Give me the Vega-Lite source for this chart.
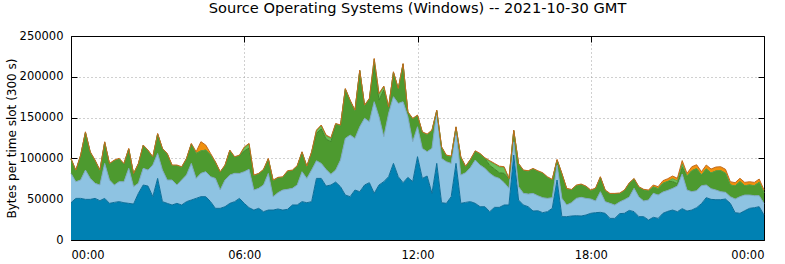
{
  "$schema": "https://vega.github.io/schema/vega-lite/v6.json",
  "width": 693,
  "height": 204,
  "autosize": {"type": "none"},
  "padding": {"left": 71, "top": 36, "right": 21, "bottom": 24},
  "background": "white",
  "title": {"text": "Source Operating Systems (Windows) -- 2021-10-30 GMT", "font": "DejaVu Sans", "fontSize": 14.6, "fontWeight": "normal", "color": "black", "anchor": "middle", "frame": "group", "baseline": "alphabetic", "offset": 2},
  "config": {
    "view": {"stroke": null},
    "axis": {"labelFont": "DejaVu Sans", "labelFontSize": 11.5, "labelColor": "black", "titleFont": "DejaVu Sans", "titleFontSize": 12, "titleFontWeight": "normal", "titleColor": "black", "domainColor": "black", "tickColor": "black", "domainWidth": 1, "tickWidth": 1}
  },
  "data": {"values": [
    {"m":0,"s5":45700,"s4":35900,"s3":17600,"s2":0,"s1":800},
    {"m":10,"s5":51000,"s4":20400,"s3":13500,"s2":0,"s1":800},
    {"m":20,"s5":51000,"s4":22500,"s3":29800,"s2":0,"s1":800},
    {"m":30,"s5":49800,"s4":35900,"s3":46100,"s2":0,"s1":800},
    {"m":40,"s5":49800,"s4":25700,"s3":31800,"s2":0,"s1":800},
    {"m":50,"s5":51000,"s4":18400,"s3":27800,"s2":0,"s1":800},
    {"m":60,"s5":48200,"s4":19200,"s3":17600,"s2":0,"s1":800},
    {"m":70,"s5":51000,"s4":42900,"s3":25700,"s2":0,"s1":800},
    {"m":80,"s5":44900,"s4":28600,"s3":19600,"s2":0,"s1":800},
    {"m":90,"s5":46100,"s4":21200,"s3":29800,"s2":0,"s1":800},
    {"m":100,"s5":47000,"s4":24500,"s3":27800,"s2":0,"s1":800},
    {"m":110,"s5":45700,"s4":25700,"s3":21600,"s2":0,"s1":800},
    {"m":120,"s5":44900,"s4":42900,"s3":23700,"s2":0,"s1":800},
    {"m":130,"s5":44100,"s4":21200,"s3":15500,"s2":0,"s1":800},
    {"m":140,"s5":57200,"s4":12200,"s3":23700,"s2":0,"s1":800},
    {"m":150,"s5":67400,"s4":20400,"s3":27800,"s2":0,"s1":800},
    {"m":160,"s5":66100,"s4":19600,"s3":23700,"s2":0,"s1":800},
    {"m":170,"s5":53100,"s4":38800,"s3":9400,"s2":0,"s1":800},
    {"m":180,"s5":75500,"s4":30600,"s3":23700,"s2":0,"s1":800},
    {"m":190,"s5":47000,"s4":38800,"s3":25700,"s2":0,"s1":800},
    {"m":200,"s5":44900,"s4":28600,"s3":31800,"s2":0,"s1":800},
    {"m":210,"s5":42900,"s4":30600,"s3":17600,"s2":0,"s1":800},
    {"m":220,"s5":44900,"s4":22500,"s3":23700,"s2":0,"s1":800},
    {"m":230,"s5":42900,"s4":30600,"s3":15500,"s2":0,"s1":800},
    {"m":240,"s5":47000,"s4":32700,"s3":19600,"s2":0,"s1":800},
    {"m":250,"s5":49000,"s4":44900,"s3":23700,"s2":0,"s1":800},
    {"m":260,"s5":51000,"s4":24500,"s3":30600,"s2":0,"s1":2000},
    {"m":270,"s5":53100,"s4":28600,"s3":27400,"s2":0,"s1":11400},
    {"m":280,"s5":53100,"s4":30600,"s3":26500,"s2":0,"s1":6100},
    {"m":290,"s5":47000,"s4":30600,"s3":26500,"s2":0,"s1":2000},
    {"m":300,"s5":38800,"s4":36700,"s3":19600,"s2":0,"s1":800},
    {"m":310,"s5":38800,"s4":22500,"s3":21600,"s2":0,"s1":800},
    {"m":320,"s5":40800,"s4":32700,"s3":17600,"s2":0,"s1":800},
    {"m":330,"s5":44900,"s4":34700,"s3":29800,"s2":0,"s1":800},
    {"m":340,"s5":47000,"s4":34700,"s3":19600,"s2":0,"s1":800},
    {"m":350,"s5":51000,"s4":30600,"s3":21600,"s2":0,"s1":800},
    {"m":360,"s5":44900,"s4":38800,"s3":25300,"s2":4100,"s1":800},
    {"m":370,"s5":39600,"s4":47000,"s3":26100,"s2":4900,"s1":800},
    {"m":380,"s5":36700,"s4":24500,"s3":17600,"s2":0,"s1":800},
    {"m":390,"s5":38800,"s4":24500,"s3":17600,"s2":0,"s1":800},
    {"m":400,"s5":34700,"s4":32700,"s3":18400,"s2":0,"s1":800},
    {"m":410,"s5":36700,"s4":44900,"s3":17600,"s2":0,"s1":800},
    {"m":420,"s5":36700,"s4":16300,"s3":19600,"s2":0,"s1":800},
    {"m":430,"s5":38000,"s4":20000,"s3":18000,"s2":0,"s1":800},
    {"m":440,"s5":36700,"s4":24500,"s3":15500,"s2":0,"s1":800},
    {"m":450,"s5":37600,"s4":24500,"s3":22000,"s2":0,"s1":800},
    {"m":460,"s5":42900,"s4":20400,"s3":21600,"s2":0,"s1":800},
    {"m":470,"s5":42900,"s4":24500,"s3":22900,"s2":0,"s1":800},
    {"m":480,"s5":47000,"s4":36700,"s3":23700,"s2":0,"s1":800},
    {"m":490,"s5":45700,"s4":29800,"s3":14300,"s2":0,"s1":800},
    {"m":500,"s5":47000,"s4":38800,"s3":21600,"s2":0,"s1":800},
    {"m":510,"s5":75500,"s4":21600,"s3":33500,"s2":3300,"s1":800},
    {"m":520,"s5":75500,"s4":18400,"s3":42100,"s2":4100,"s1":800},
    {"m":530,"s5":66100,"s4":20400,"s3":37200,"s2":4100,"s1":800},
    {"m":540,"s5":67400,"s4":13100,"s3":40000,"s2":4100,"s1":800},
    {"m":550,"s5":71000,"s4":14700,"s3":56300,"s2":0,"s1":800},
    {"m":560,"s5":65300,"s4":32700,"s3":42100,"s2":0,"s1":800},
    {"m":570,"s5":55100,"s4":69400,"s3":60400,"s2":0,"s1":800},
    {"m":580,"s5":53100,"s4":75500,"s3":42100,"s2":0,"s1":800},
    {"m":590,"s5":61200,"s4":63300,"s3":33900,"s2":0,"s1":800},
    {"m":600,"s5":59200,"s4":79600,"s3":68600,"s2":0,"s1":800},
    {"m":610,"s5":67400,"s4":81700,"s3":15500,"s2":0,"s1":800},
    {"m":620,"s5":70200,"s4":74700,"s3":27800,"s2":0,"s1":800},
    {"m":630,"s5":57200,"s4":112300,"s3":46100,"s2":6100,"s1":800},
    {"m":640,"s5":67400,"s4":83700,"s3":20400,"s2":7300,"s1":800},
    {"m":650,"s5":71500,"s4":55100,"s3":57200,"s2":4100,"s1":800},
    {"m":660,"s5":77600,"s4":77600,"s3":7300,"s2":0,"s1":800},
    {"m":670,"s5":93900,"s4":81700,"s3":29800,"s2":0,"s1":800},
    {"m":680,"s5":77600,"s4":89800,"s3":17600,"s2":0,"s1":800},
    {"m":690,"s5":70200,"s4":99200,"s3":46100,"s2":0,"s1":800},
    {"m":700,"s5":76800,"s4":74300,"s3":5300,"s2":0,"s1":800},
    {"m":710,"s5":71500,"s4":49000,"s3":27800,"s2":0,"s1":800},
    {"m":720,"s5":102100,"s4":36700,"s3":13500,"s2":0,"s1":800},
    {"m":730,"s5":75500,"s4":36700,"s3":19600,"s2":0,"s1":800},
    {"m":740,"s5":78400,"s4":29800,"s3":20800,"s2":0,"s1":800},
    {"m":750,"s5":57200,"s4":55100,"s3":21600,"s2":0,"s1":800},
    {"m":760,"s5":93900,"s4":63300,"s3":1200,"s2":0,"s1":800},
    {"m":770,"s5":45700,"s4":54300,"s3":13500,"s2":0,"s1":800},
    {"m":780,"s5":44900,"s4":51000,"s3":7300,"s2":0,"s1":800},
    {"m":790,"s5":53100,"s4":40800,"s3":8200,"s2":0,"s1":800},
    {"m":800,"s5":93900,"s4":40800,"s3":3300,"s2":0,"s1":800},
    {"m":810,"s5":44900,"s4":34700,"s3":21600,"s2":0,"s1":800},
    {"m":820,"s5":46100,"s4":36300,"s3":7300,"s2":0,"s1":800},
    {"m":830,"s5":47000,"s4":41700,"s3":9400,"s2":0,"s1":800},
    {"m":840,"s5":44900,"s4":53100,"s3":10600,"s2":0,"s1":800},
    {"m":850,"s5":40800,"s4":51000,"s3":13500,"s2":0,"s1":800},
    {"m":860,"s5":40800,"s4":47000,"s3":12200,"s2":0,"s1":800},
    {"m":870,"s5":34700,"s4":47000,"s3":9800,"s2":4900,"s1":800},
    {"m":880,"s5":40000,"s4":37600,"s3":9400,"s2":6100,"s1":800},
    {"m":890,"s5":40000,"s4":35500,"s3":6900,"s2":7300,"s1":800},
    {"m":900,"s5":42900,"s4":27400,"s3":11400,"s2":7300,"s1":800},
    {"m":910,"s5":42900,"s4":20400,"s3":11400,"s2":0,"s1":800},
    {"m":920,"s5":104100,"s4":16300,"s3":13500,"s2":0,"s1":800},
    {"m":930,"s5":49000,"s4":16300,"s3":27800,"s2":0,"s1":800},
    {"m":940,"s5":42900,"s4":14300,"s3":27800,"s2":0,"s1":800},
    {"m":950,"s5":40800,"s4":15500,"s3":27800,"s2":0,"s1":800},
    {"m":960,"s5":35500,"s4":21600,"s3":29800,"s2":0,"s1":800},
    {"m":970,"s5":35900,"s4":18400,"s3":29800,"s2":0,"s1":800},
    {"m":980,"s5":33500,"s4":18400,"s3":29800,"s2":0,"s1":800},
    {"m":990,"s5":34700,"s4":16300,"s3":25700,"s2":0,"s1":800},
    {"m":1000,"s5":38800,"s4":13100,"s3":21600,"s2":0,"s1":800},
    {"m":1010,"s5":73500,"s4":18400,"s3":6100,"s2":0,"s1":800},
    {"m":1020,"s5":28600,"s4":22500,"s3":29800,"s2":0,"s1":800},
    {"m":1030,"s5":28600,"s4":14300,"s3":19600,"s2":0,"s1":800},
    {"m":1040,"s5":29400,"s4":16300,"s3":15500,"s2":0,"s1":800},
    {"m":1050,"s5":29800,"s4":21200,"s3":15500,"s2":0,"s1":800},
    {"m":1060,"s5":29400,"s4":22900,"s3":15500,"s2":0,"s1":800},
    {"m":1070,"s5":30600,"s4":20400,"s3":14300,"s2":0,"s1":800},
    {"m":1080,"s5":32700,"s4":17600,"s3":10200,"s2":0,"s1":800},
    {"m":1090,"s5":33500,"s4":14300,"s3":15100,"s2":0,"s1":800},
    {"m":1100,"s5":33900,"s4":25300,"s3":17600,"s2":0,"s1":800},
    {"m":1110,"s5":32700,"s4":14300,"s3":13500,"s2":0,"s1":800},
    {"m":1120,"s5":26500,"s4":18400,"s3":11400,"s2":0,"s1":800},
    {"m":1130,"s5":26500,"s4":16300,"s3":13500,"s2":0,"s1":800},
    {"m":1140,"s5":32300,"s4":14300,"s3":10200,"s2":0,"s1":800},
    {"m":1150,"s5":32700,"s4":16700,"s3":11000,"s2":0,"s1":800},
    {"m":1160,"s5":36300,"s4":16300,"s3":16700,"s2":0,"s1":800},
    {"m":1170,"s5":34700,"s4":28600,"s3":11400,"s2":0,"s1":800},
    {"m":1180,"s5":28600,"s4":24100,"s3":11800,"s2":0,"s1":800},
    {"m":1190,"s5":28600,"s4":19200,"s3":13500,"s2":0,"s1":800},
    {"m":1200,"s5":24500,"s4":24500,"s3":11000,"s2":0,"s1":1200},
    {"m":1210,"s5":27800,"s4":29400,"s3":7800,"s2":0,"s1":2400},
    {"m":1220,"s5":26500,"s4":28600,"s3":7800,"s2":0,"s1":2400},
    {"m":1230,"s5":32700,"s4":26100,"s3":10600,"s2":0,"s1":3300},
    {"m":1240,"s5":35100,"s4":25700,"s3":11000,"s2":0,"s1":3300},
    {"m":1250,"s5":36700,"s4":26500,"s3":8600,"s2":3300,"s1":3300},
    {"m":1260,"s5":34700,"s4":31400,"s3":2900,"s2":3300,"s1":3300},
    {"m":1270,"s5":38400,"s4":42500,"s3":8200,"s2":4100,"s1":4100},
    {"m":1280,"s5":35500,"s4":25700,"s3":17100,"s2":0,"s1":3300},
    {"m":1290,"s5":36700,"s4":22500,"s3":25700,"s2":0,"s1":4900},
    {"m":1300,"s5":39600,"s4":20800,"s3":26900,"s2":0,"s1":4900},
    {"m":1310,"s5":44500,"s4":22000,"s3":13100,"s2":0,"s1":4100},
    {"m":1320,"s5":51900,"s4":15500,"s3":19600,"s2":0,"s1":4900},
    {"m":1330,"s5":49800,"s4":13100,"s3":19200,"s2":0,"s1":4900},
    {"m":1340,"s5":49400,"s4":11800,"s3":23300,"s2":0,"s1":4900},
    {"m":1350,"s5":49400,"s4":9800,"s3":25700,"s2":0,"s1":4900},
    {"m":1360,"s5":50200,"s4":8200,"s3":23300,"s2":0,"s1":4900},
    {"m":1370,"s5":44900,"s4":8200,"s3":14300,"s2":0,"s1":4100},
    {"m":1380,"s5":33500,"s4":16700,"s3":15900,"s2":0,"s1":4100},
    {"m":1390,"s5":32700,"s4":20400,"s3":18400,"s2":0,"s1":4100},
    {"m":1400,"s5":35900,"s4":19200,"s3":11400,"s2":0,"s1":4100},
    {"m":1410,"s5":38800,"s4":16300,"s3":12200,"s2":0,"s1":4100},
    {"m":1420,"s5":39600,"s4":14700,"s3":12200,"s2":0,"s1":4100},
    {"m":1430,"s5":40800,"s4":13500,"s3":16300,"s2":0,"s1":4100},
    {"m":1440,"s5":30600,"s4":14300,"s3":13100,"s2":0,"s1":3300}
  ]},
  "transform": [{"fold": ["s5", "s4", "s3", "s2", "s1"], "as": ["series", "bytes"]}],
  "layer": [
    {
      "mark": {"type": "area", "interpolate": "linear"},
      "encoding": {
        "x": {"field": "m", "type": "quantitative", "scale": {"domain": [0, 1440], "nice": false, "zero": false},
          "axis": {"orient": "bottom", "values": [0, 360, 720, 1080, 1440], "labelExpr": "(datum.value % 1440 < 600 ? '0' : '') + floor((datum.value % 1440) / 60) + ':00'", "title": null, "grid": true, "gridDash": [1, 3], "gridColor": "#a0a0a0", "gridOpacity": {"condition": {"test": "datum.value == 0 || datum.value == 1440", "value": 0}, "value": 1}, "tickSize": -6, "labelPadding": 15, "domain": true}},
        "y": {"field": "bytes", "type": "quantitative", "stack": "zero", "scale": {"domain": [0, 250000], "nice": false},
          "axis": {"orient": "left", "values": [0, 50000, 100000, 150000, 200000, 250000], "format": "d", "title": "Bytes per time slot (300 s)", "titleX": -56, "titleBaseline": "alphabetic", "grid": true, "gridDash": [1, 3], "gridColor": "#a0a0a0", "gridOpacity": {"condition": {"test": "datum.value == 0 || datum.value == 250000", "value": 0}, "value": 1}, "tickSize": -6, "labelPadding": 14, "domain": true}},
        "color": {"field": "series", "type": "nominal", "legend": null,
          "scale": {"domain": ["s5", "s4", "s3", "s2", "s1"], "range": ["#0081b3", "#8ec3e2", "#4d9a2f", "#6cbf57", "#f0900e"]}}
      }
    },
    {
      "mark": {"type": "line", "interpolate": "linear", "strokeWidth": 1},
      "encoding": {
        "x": {"field": "m", "type": "quantitative", "scale": {"domain": [0, 1440], "nice": false, "zero": false},
          "axis": {"orient": "top", "values": [0, 360, 720, 1080, 1440], "labels": false, "title": null, "grid": false, "tickSize": -6, "domain": true}},
        "y": {"field": "bytes", "type": "quantitative", "stack": "zero", "scale": {"domain": [0, 250000], "nice": false},
          "axis": {"orient": "right", "values": [0, 50000, 100000, 150000, 200000, 250000], "labels": false, "title": null, "grid": false, "tickSize": -6, "domain": true}},
        "stroke": {"field": "series", "type": "nominal", "legend": null,
          "scale": {"domain": ["s5", "s4", "s3", "s2", "s1"], "range": ["#0b6d98", "#7fa9c4", "#3e8526", "#56a443", "#c36a1c"]}}
      }
    }
  ],
  "resolve": {"axis": {"x": "independent", "y": "independent"}}
}
